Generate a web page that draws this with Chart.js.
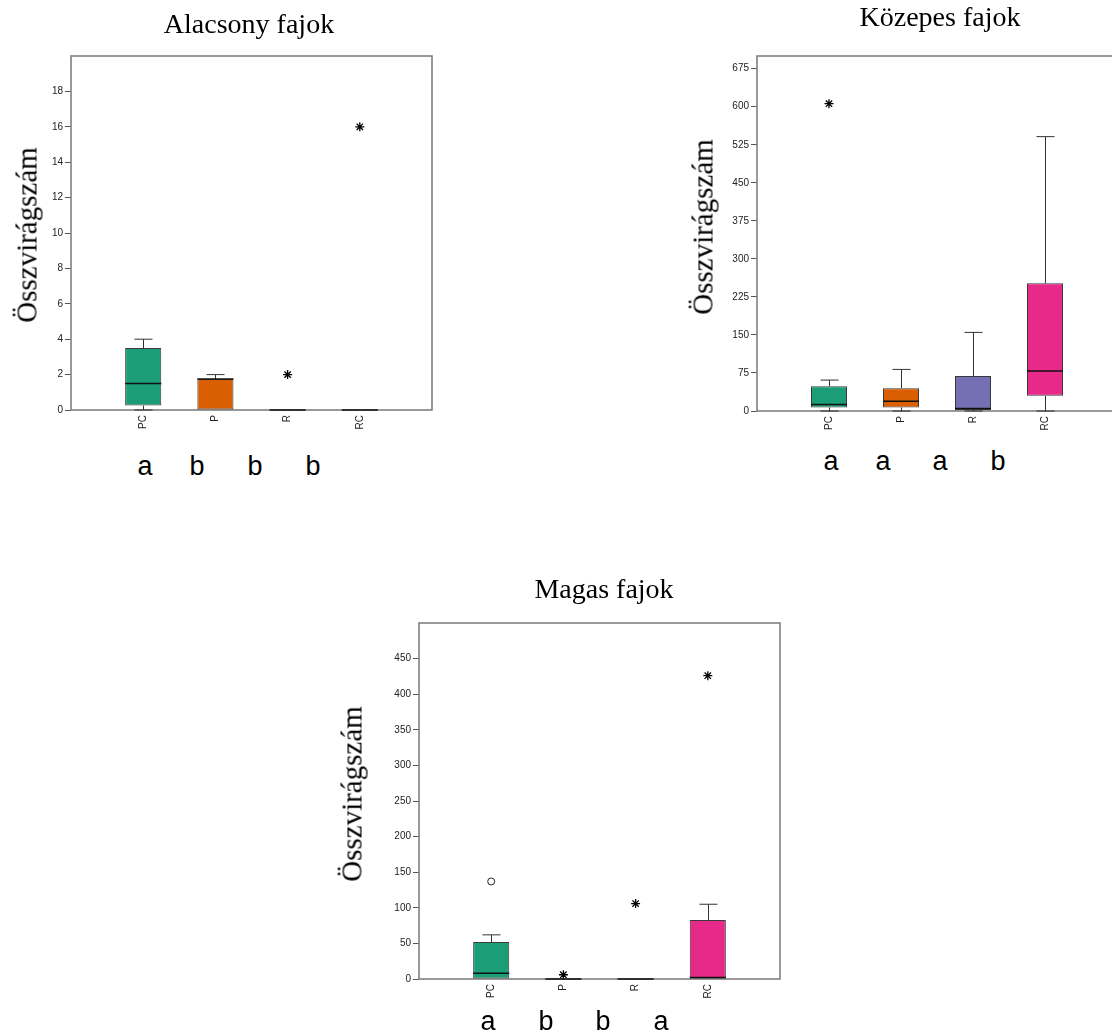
<!DOCTYPE html>
<html>
<head>
<meta charset="utf-8">
<script src="https://cdn.jsdelivr.net/npm/chart.js@4.4.1/dist/chart.umd.min.js"></script>
<style>
  html, body { margin: 0; padding: 0; background: #fff; overflow: hidden; width: 1112px; height: 1033px; }
  .panel { position: absolute; }
  .title { position: absolute; font-family: 'Liberation Serif', serif; font-size: 28px; line-height: 28px; white-space: nowrap; transform: translateX(-50%); color: #000; }
  .ytitle { position: absolute; font-family: 'Liberation Serif', serif; font-size: 29px; line-height: 29px; white-space: nowrap; transform: translate(-50%, -50%) rotate(-90deg); color: #000; }
  .letter { position: absolute; font-family: 'Liberation Sans', sans-serif; font-size: 27px; line-height: 27px; transform: translateX(-50%); color: #000; }
</style>
</head>
<body>
<div class="panel" id="p1" style="left:0;top:0;width:450px;height:440px"><canvas id="c1"></canvas></div>
<div class="panel" id="p2" style="left:700px;top:0;width:430px;height:441px"><canvas id="c2"></canvas></div>
<div class="panel" id="p3" style="left:360px;top:560px;width:440px;height:449px"><canvas id="c3"></canvas></div>
<div id="texts"></div>
<script>
// --- data ---
const categories = ["PC", "P", "R", "RC"];
const boxColors = ["#1b9e77", "#d95f02", "#7570b3", "#e7298a"];
const yTitle = "Összvirágszám";

// Alacsony fajok
const alacsonyMin = [0, 0, 0, 0];
const alacsonyQ1 = [0.25, 0, 0, 0];
const alacsonyMedian = [1.5, 1.75, 0, 0];
const alacsonyQ3 = [3.5, 1.75, 0, 0];
const alacsonyMax = [4, 2, 0, 0];
const alacsonyStarCats = ["R", "RC"];
const alacsonyStarVals = [2, 16];
const alacsonyTicks = [0, 2, 4, 6, 8, 10, 12, 14, 16, 18];
const alacsonyLetters = ["a", "b", "b", "b"];

// Közepes fajok
const kozepesMin = [0, 0, 0, 0];
const kozepesQ1 = [7, 7, 2, 30];
const kozepesMedian = [13, 19, 5, 79];
const kozepesQ3 = [49, 45, 69, 252];
const kozepesMax = [61, 82, 155, 541];
const kozepesStarCats = ["PC"];
const kozepesStarVals = [606];
const kozepesTicks = [0, 75, 150, 225, 300, 375, 450, 525, 600, 675];
const kozepesLetters = ["a", "a", "a", "b"];

// Magas fajok
const magasMin = [0, 0, 0, 0];
const magasQ1 = [0, 0, 0, 0];
const magasMedian = [8, 0, 0, 2];
const magasQ3 = [52, 1, 1, 83];
const magasMax = [62, 1, 1, 105];
const magasStarCats = ["P", "R", "RC"];
const magasStarVals = [6, 106, 426];
const magasCircleCats = ["PC"];
const magasCircleVals = [137];
const magasTicks = [0, 50, 100, 150, 200, 250, 300, 350, 400, 450];
const magasLetters = ["a", "b", "b", "a"];

// --- box plot helper plugin (frame, whiskers, medians) ---
const boxWhiskers = {
    id: "boxWhiskers",
    beforeDatasetsDraw(chart) {
        const { ctx, chartArea: a } = chart;
        ctx.save();
        ctx.strokeStyle = "#808080";
        ctx.lineWidth = 1.6;
        ctx.strokeRect(a.left, a.top, a.right - a.left, a.bottom - a.top);
        ctx.restore();
    },
    afterDatasetsDraw(chart, args, opts) {
        const { ctx } = chart;
        const y = chart.scales.y;
        const meta = chart.getDatasetMeta(0);
        ctx.save();
        meta.data.forEach((bar, i) => {
            const x = Math.round(bar.x) + 0.5;
            const half = bar.width / 2;
            const cap = bar.width / 4;
            ctx.strokeStyle = "#333";
            ctx.lineWidth = 1;
            // upper whisker
            if (opts.max[i] > opts.q3[i]) {
                ctx.beginPath();
                ctx.moveTo(x, y.getPixelForValue(opts.q3[i]));
                ctx.lineTo(x, y.getPixelForValue(opts.max[i]));
                ctx.moveTo(x - cap, y.getPixelForValue(opts.max[i]));
                ctx.lineTo(x + cap, y.getPixelForValue(opts.max[i]));
                ctx.stroke();
            }
            // lower whisker
            if (opts.min[i] < opts.q1[i]) {
                ctx.beginPath();
                ctx.moveTo(x, y.getPixelForValue(opts.q1[i]));
                ctx.lineTo(x, y.getPixelForValue(opts.min[i]));
                ctx.moveTo(x - cap, y.getPixelForValue(opts.min[i]));
                ctx.lineTo(x + cap, y.getPixelForValue(opts.min[i]));
                ctx.stroke();
            }
            // median
            ctx.strokeStyle = "#111";
            ctx.lineWidth = 1.5;
            ctx.beginPath();
            const my = y.getPixelForValue(opts.median[i]);
            ctx.moveTo(bar.x - half, my);
            ctx.lineTo(bar.x + half, my);
            ctx.stroke();
        });
        ctx.restore();
    }
};

function makeBoxChart(id, s) {
    const datasets = [{
        type: "bar",
        data: categories.map((c, i) => ({ x: c, y: [s.q1[i], s.q3[i]] })),
        backgroundColor: boxColors,
        borderColor: "#3a3a3a",
        borderWidth: 1,
        borderSkipped: false,
        categoryPercentage: 0.5,
        barPercentage: 1
    }, {
        type: "scatter",
        data: s.starCats.map((c, i) => ({ x: c, y: s.starVals[i] })),
        pointStyle: "star",
        radius: 4.5,
        borderColor: "#000",
        borderWidth: 1.3
    }];
    if (s.circleCats) {
        datasets.push({
            type: "scatter",
            data: s.circleCats.map((c, i) => ({ x: c, y: s.circleVals[i] })),
            pointStyle: "circle",
            radius: 3.5,
            borderColor: "#222",
            backgroundColor: "#fff",
            borderWidth: 1
        });
    }

    return new Chart(document.getElementById(id), {
        type: "bar",
        data: { labels: ["", ...categories, ""], datasets },
        options: {
            responsive: true,
            maintainAspectRatio: false,
            animation: false,
            layout: { padding: s.padding },
            plugins: {
                legend: { display: false },
                tooltip: { enabled: false },
                boxWhiskers: { min: s.min, q1: s.q1, median: s.median, q3: s.q3, max: s.max }
            },
            scales: {
                x: {
                    type: "category",
                    offset: false,
                    grid: { display: false },
                    border: { display: false },
                    ticks: {
                        autoSkip: false, minRotation: 90, maxRotation: 90, padding: -3,
                        color: "#222", font: { family: "Liberation Sans", size: 10 }
                    },
                    afterFit: (scale) => { scale.height = 30; }
                },
                y: {
                    min: 0,
                    max: s.yMax,
                    grid: { drawOnChartArea: false, drawTicks: true, tickLength: 6, color: "#555" },
                    border: { display: false },
                    ticks: { padding: 2, color: "#222", font: { family: "Liberation Sans", size: 10 } },
                    afterBuildTicks: (scale) => { scale.ticks = s.ticks.map(v => ({ value: v })); },
                    afterFit: (scale) => { scale.width = 40; }
                }
            }
        },
        plugins: [boxWhiskers]
    });
}

makeBoxChart("c1", {
    min: alacsonyMin, q1: alacsonyQ1, median: alacsonyMedian, q3: alacsonyQ3, max: alacsonyMax,
    starCats: alacsonyStarCats, starVals: alacsonyStarVals,
    ticks: alacsonyTicks, yMax: 20,
    padding: { left: 31, right: 18, top: 56, bottom: 0 }
});
makeBoxChart("c2", {
    min: kozepesMin, q1: kozepesQ1, median: kozepesMedian, q3: kozepesQ3, max: kozepesMax,
    starCats: kozepesStarCats, starVals: kozepesStarVals,
    ticks: kozepesTicks, yMax: 700,
    padding: { left: 17, right: 13, top: 56, bottom: 0 }
});
makeBoxChart("c3", {
    min: magasMin, q1: magasQ1, median: magasMedian, q3: magasQ3, max: magasMax,
    starCats: magasStarCats, starVals: magasStarVals,
    circleCats: magasCircleCats, circleVals: magasCircleVals,
    ticks: magasTicks, yMax: 500,
    padding: { left: 19, right: 20, top: 63, bottom: 0 }
});

// --- text layer: titles, axis titles, significance letters ---
const texts = document.getElementById("texts");
function addText(cls, txt, left, top) {
    const d = document.createElement("div");
    d.className = cls;
    d.textContent = txt;
    d.style.left = left + "px";
    d.style.top = top + "px";
    texts.appendChild(d);
}
addText("title", "Alacsony fajok", 249, 10);
addText("title", "Közepes fajok", 940, 3);
addText("title", "Magas fajok", 604, 575);

addText("ytitle", yTitle, 27, 235);
addText("ytitle", yTitle, 703, 227);
addText("ytitle", yTitle, 352, 794);

const letterX1 = [145, 197, 255, 313];
const letterX2 = [831, 883, 940, 998];
const letterX3 = [488, 546, 603, 661];
alacsonyLetters.forEach((t, i) => addText("letter", t, letterX1[i], 476 - 23));
kozepesLetters.forEach((t, i) => addText("letter", t, letterX2[i], 471 - 23));
magasLetters.forEach((t, i) => addText("letter", t, letterX3[i], 1031 - 23));
</script>
</body>
</html>
